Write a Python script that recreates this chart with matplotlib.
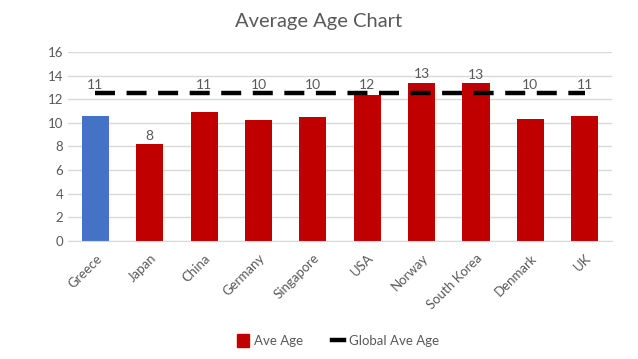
import numpy as np
import matplotlib
matplotlib.use('Agg')
import matplotlib.pyplot as plt
from matplotlib.patches import Patch
from matplotlib.lines import Line2D

plt.rcParams['font.family'] = ['Lato', 'DejaVu Sans']

countries = ['Greece', 'Japan', 'China', 'Germany', 'Singapore', 'USA',
             'Norway', 'South Korea', 'Denmark', 'UK']
ave_age = [10.6, 8.2, 10.95, 10.25, 10.5, 12.4, 13.4, 13.35, 10.3, 10.6]
global_ave = 12.5


def plot_chart():
    fig = plt.figure(figsize=(6.38, 3.59), dpi=100)
    ax = fig.add_axes([0.107, 0.329, 0.852, 0.526])
    x = np.arange(len(countries))
    colors = ['#4472c4'] + ['#c00000'] * (len(countries) - 1)
    ax.bar(x, ave_age, width=0.5, color=colors, zorder=2)
    ax.plot(x, [global_ave] * len(x), color='black', linewidth=3.2,
            dashes=(4.5, 2.6), zorder=3)

    # data labels sit above the bar, or above the line when it is close
    for xi, v in zip(x, ave_age):
        y = max(v, global_ave) + 0.2 if v > global_ave - 3 else v + 0.2
        ax.text(xi, y, '%d' % round(v), ha='center', va='bottom',
                fontsize=10, color='#595959', zorder=4)

    ax.set_xlim(-0.5, len(countries) - 0.5)
    ax.set_ylim(0, 16)
    ax.set_yticks(range(0, 17, 2))
    ax.set_xticks(x)
    ax.set_xticklabels(countries, rotation=45, ha='right', rotation_mode='anchor')
    ax.tick_params(colors='#595959', labelsize=9.5, length=0)
    ax.tick_params(axis='x', pad=8)
    ax.grid(axis='y', color='#d9d9d9', linewidth=1, zorder=0)
    for s in ['top', 'right', 'left']:
        ax.spines[s].set_visible(False)
    ax.spines['bottom'].set_color('#d9d9d9')

    fig.suptitle('Average Age Chart', y=0.965, fontsize=14.5, color='#595959')
    handles = [Patch(color='#c00000', label='Ave Age'),
               Line2D([], [], color='black', linewidth=3.2, label='Global Ave Age')]
    fig.legend(handles=handles, loc='lower center', ncol=2, frameon=False,
               fontsize=9.5, bbox_to_anchor=(0.53, 0.0), handlelength=0.9,
               handleheight=1.1, handletextpad=0.4, columnspacing=2.2,
               labelcolor='#595959')
    fig.savefig('out.png', dpi=100)


if __name__ == '__main__':
    plot_chart()
